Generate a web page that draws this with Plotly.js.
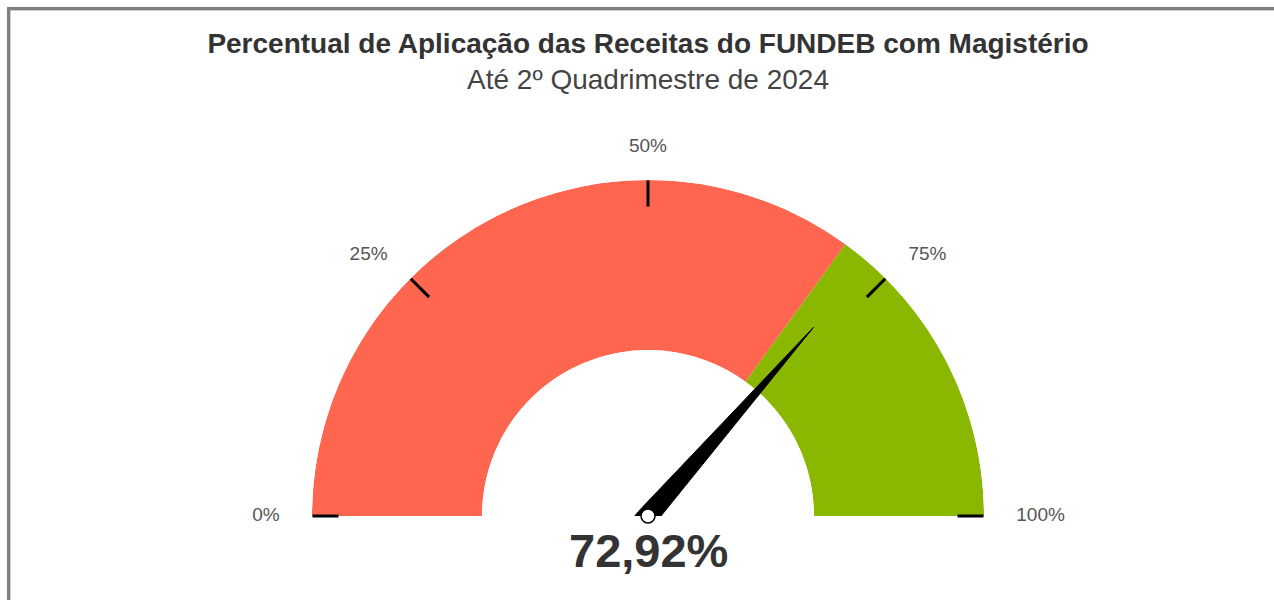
<!DOCTYPE html>
<html>
<head>
<meta charset="utf-8">
<script src="https://cdn.plot.ly/plotly-3.0.1.min.js"></script>
<style>
  html, body { margin: 0; padding: 0; overflow: hidden; background: #fff; }
  #chart { position: absolute; left: 0; top: 0; width: 1274px; height: 600px; }
  #frame { position: absolute; left: 7px; top: 7px; width: 3000px; height: 3000px;
           border-left: 3px solid #808080; border-top: 3px solid #808080;
           box-shadow: inset 1px 1px 0 #cfcfcf; pointer-events: none; z-index: 5; }
</style>
</head>
<body>
<div id="chart"></div>
<div id="frame"></div>
<script>
// ---- data ----
var titleText = "Percentual de Aplicação das Receitas do FUNDEB com Magistério";
var subtitleText = "Até 2º Quadrimestre de 2024";
var bandNames = ["Abaixo", "Meta"];
var bandFrom = [0, 70];
var bandTo = [70, 100];
var bandColors = ["#FF6650", "#8AB800"];
var tickValues = [0, 25, 50, 75, 100];
var tickLabels = ["0%", "25%", "50%", "75%", "100%"];
var gaugeValue = 72.92;

// ---- helpers ----
var DEG_PER_PCT = 180 / 100;   // gauge spans half a circle
function th(p) { return p * DEG_PER_PCT; }

var FONT = "Liberation Sans, Arial, Helvetica, sans-serif";

// bands as polar bars
var bandTrace = {
  type: "barpolar",
  subplot: "polar",
  theta: bandFrom.map(function (f, i) { return th((f + bandTo[i]) / 2); }),
  width: bandFrom.map(function (f, i) { return th(bandTo[i] - f); }),
  r: bandFrom.map(function () { return 1; }),
  base: bandFrom.map(function () { return 0; }),
  marker: { color: bandColors, line: { width: 0 } },
  text: bandNames,
  hoverinfo: "skip"
};

// needle (drawn in polar2, which has no hole so r=0 is the centre)
var t = th(gaugeValue);
var needleLen = 0.747, halfW = 0.03, backR = 0.0488, backA = 37.6;
var needleTrace = {
  type: "scatterpolar",
  subplot: "polar2",
  mode: "lines",
  r: [needleLen, halfW, backR, backR, halfW, needleLen],
  theta: [t, t + 90, t + 180 - backA, t + 180 + backA, t - 90, t],
  fill: "toself",
  fillcolor: "#000",
  line: { color: "#000", width: 1 },
  hoverinfo: "skip"
};
var hubTrace = {
  type: "scatterpolar",
  subplot: "polar2",
  mode: "markers",
  r: [0],
  theta: [t],
  marker: { size: 14, color: "#fff", line: { color: "#000", width: 1.5 } },
  hoverinfo: "skip"
};
var labelTrace = {
  type: "scatterpolar",
  subplot: "polar2",
  mode: "text",
  r: tickValues.map(function () { return 1.096; }),
  theta: tickValues.map(th),
  text: tickLabels,
  textposition: ["middle left", "middle left", "middle center", "middle right", "middle right"],
  textfont: { family: FONT, size: 19, color: "#555" },
  cliponaxis: false,
  hoverinfo: "skip"
};

var angular = {
  direction: "clockwise",
  rotation: 180,
  thetaunit: "degrees",
  showgrid: false,
  showline: false,
  showticklabels: false,
  ticks: ""
};
function radial(maxR) {
  return { visible: false, range: [0, maxR], showgrid: false, showline: false, showticklabels: false, ticks: "" };
}

// gauge geometry (pixels): centre and outer radius
var W = 1274, H = 600, CX = 648, CY = 516, R = 336, R2MAX = 1.25;
function domain(rpx) {
  return { x: [(CX - rpx) / W, (CX + rpx) / W], y: [1 - CY / H, 1 - (CY - rpx) / H] };
}

var layout = {
  width: W, height: H,
  margin: { l: 0, r: 0, t: 0, b: 0 },
  paper_bgcolor: "#fff",
  showlegend: false,
  font: { family: FONT, color: "#333" },
  title: {
    text: "<b>" + titleText + "</b><br><span style='color:#444'>" + subtitleText + "</span>",
    font: { family: FONT, size: 28, color: "#333" },
    x: CX / W, xanchor: "center",
    yref: "container", y: 1 - 53 / 600, yanchor: "top"
  },
  polar: {
    domain: domain(R),
    sector: [0, 180],
    hole: 0.494,
    bgcolor: "rgba(0,0,0,0)",
    angularaxis: Object.assign({}, angular, {
      ticks: "inside", ticklen: 26, tickwidth: 3, tickcolor: "#000",
      tickmode: "array", tickvals: tickValues.map(th), layer: "above traces"
    }),
    radialaxis: radial(1)
  },
  polar2: {
    domain: domain(R * R2MAX),
    sector: [0, 180],
    hole: 0,
    bgcolor: "rgba(0,0,0,0)",
    angularaxis: angular,
    radialaxis: radial(R2MAX)
  },
  annotations: [{
    text: "<b>" + gaugeValue.toFixed(2).replace(".", ",") + "%</b>",
    x: CX / W, xref: "paper", xanchor: "center",
    y: 1 - 550 / 600, yref: "paper", yanchor: "middle",
    showarrow: false,
    font: { family: FONT, size: 47, color: "#333" }
  }]
};

Plotly.newPlot("chart", [bandTrace, needleTrace, hubTrace, labelTrace], layout,
  { displayModeBar: false, staticPlot: true });
</script>
</body>
</html>
